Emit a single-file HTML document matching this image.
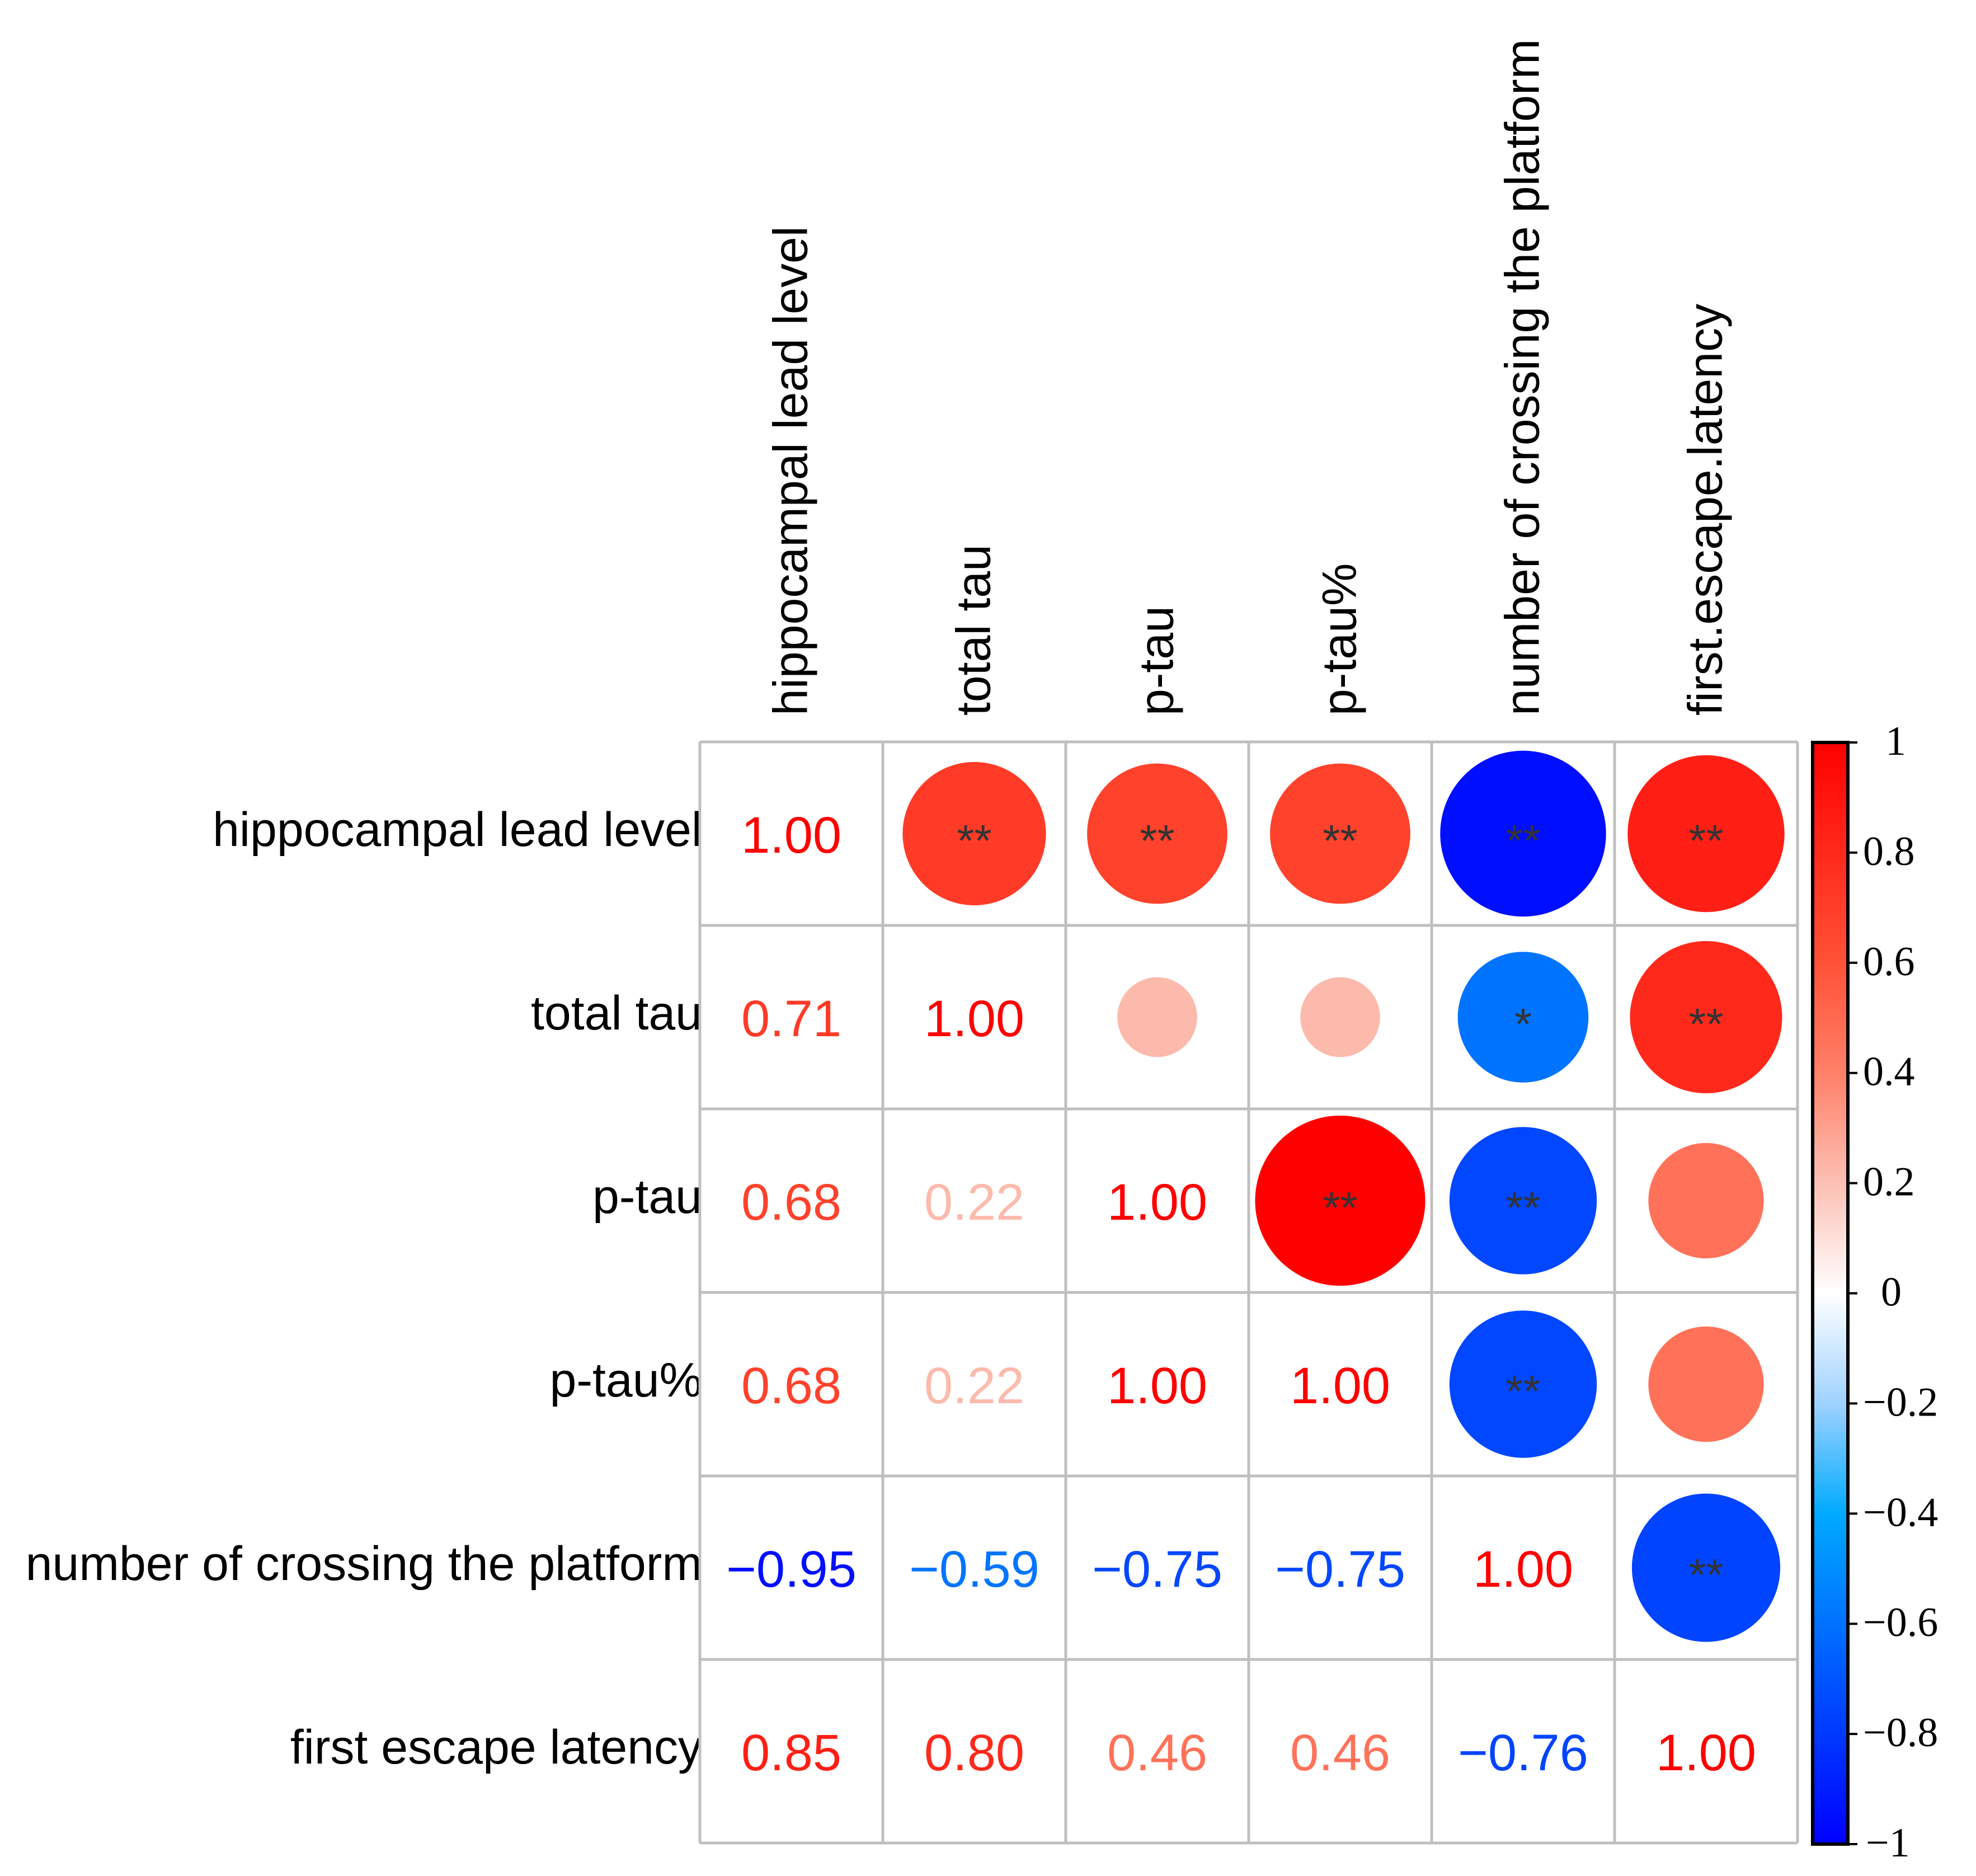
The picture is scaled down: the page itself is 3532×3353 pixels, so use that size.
<!DOCTYPE html>
<html><head><meta charset="utf-8"><style>
html,body{margin:0;padding:0;background:#fff}
svg{display:block}
</style></head><body>
<svg id="chart" width="3532" height="3353" viewBox="0 0 3532 3353" xmlns="http://www.w3.org/2000/svg" font-family="'Liberation Sans', sans-serif">
<defs>
<linearGradient id="cbar" x1="0" y1="1" x2="0" y2="0">
<stop offset="0" stop-color="#0000FF"/>
<stop offset="0.3" stop-color="#00AAFF"/>
<stop offset="0.4" stop-color="#9FD2FF"/>
<stop offset="0.5" stop-color="#FFFFFF"/>
<stop offset="0.6" stop-color="#FCC0B4"/>
<stop offset="0.7" stop-color="#FF8068"/>
<stop offset="0.8" stop-color="#FF5237"/>
<stop offset="1" stop-color="#FF0000"/>
</linearGradient>
</defs>
<g id="labels"></g>
<g id="grid"></g>
<g id="colorbar"></g>
</svg>
<script>
const variables = ["hippocampal lead level","total tau","p-tau","p-tau%","number of crossing the platform","first escape latency"];
const colLabels = ["hippocampal lead level","total tau","p-tau","p-tau%","number of crossing the platform","first.escape.latency"];
const row0 = [1.00, 0.71, 0.68, 0.68, -0.95, 0.85];
const row1 = [0.71, 1.00, 0.22, 0.22, -0.59, 0.80];
const row2 = [0.68, 0.22, 1.00, 1.00, -0.75, 0.46];
const row3 = [0.68, 0.22, 1.00, 1.00, -0.75, 0.46];
const row4 = [-0.95, -0.59, -0.75, -0.75, 1.00, -0.76];
const row5 = [0.85, 0.80, 0.46, 0.46, -0.76, 1.00];
const sig0 = ["", "**", "**", "**", "**", "**"];
const sig1 = ["", "", "", "", "*", "**"];
const sig2 = ["", "", "", "**", "**", ""];
const sig3 = ["", "", "", "", "**", ""];
const sig4 = ["", "", "", "", "", "**"];
const sig5 = ["", "", "", "", "", ""];
const cbTicks = [1, 0.8, 0.6, 0.4, 0.2, 0, -0.2, -0.4, -0.6, -0.8, -1];

const matrix = [row0,row1,row2,row3,row4,row5];
const sigs = [sig0,sig1,sig2,sig3,sig4,sig5];
const NS = "http://www.w3.org/2000/svg";
const GX = 1251, GY = 1326, CW = 327, CH = 328;
const xc = j => GX + (j + 0.5) * CW;
const yc = i => GY + (i + 0.5) * CH;
const CB_TOP = 1327, CB_BOT = 3296;
const cbY = v => CB_TOP + (1 - v) / 2 * (CB_BOT - CB_TOP);

const stops = [[-1,[0,0,255]],[-0.4,[0,170,255]],[-0.2,[159,210,255]],[0,[255,255,255]],[0.2,[252,192,180]],[0.4,[255,128,104]],[0.6,[255,82,55]],[1,[255,0,0]]];
function color(v){
  for(let k=0;k<stops.length-1;k++){
    const [a,ca]=stops[k],[b,cb]=stops[k+1];
    if(v>=a && v<=b){const t=(v-a)/(b-a);
      const c=ca.map((x,i)=>Math.round(x+(cb[i]-x)*t));
      return `rgb(${c[0]},${c[1]},${c[2]})`;}
  }
  return v<0?"rgb(0,0,255)":"rgb(255,0,0)";
}
function mk(tag, attrs, parent){
  const e=document.createElementNS(NS,tag);
  for(const k in attrs) e.setAttribute(k, attrs[k]);
  parent.appendChild(e); return e;
}
const labels=document.getElementById('labels');
const grid=document.getElementById('grid');
const cbar=document.getElementById('colorbar');

variables.forEach((v,i)=>{
  const t=mk('text',{x:GX+4,y:yc(i)+22,'font-size':86,'text-anchor':'end',fill:'#000'},labels);
  
  
  t.textContent=v;
});
colLabels.forEach((v,j)=>{
  const x=xc(j)+28, y=1279;
  const t=mk('text',{x:x,y:y,'font-size':86,'text-anchor':'start',fill:'#000',transform:`rotate(-90 ${x} ${y})`},labels);
  
  
  t.textContent=v;
});

const bg=mk('rect',{x:GX,y:GY,width:6*CW,height:6*CH,fill:'#fff'},grid);



matrix.forEach((row,i)=>{
  row.forEach((v,j)=>{
    if(j<=i){
      const t=mk('text',{x:xc(j),y:yc(i)+34,'font-size':92,'text-anchor':'middle',fill:color(v)},grid);
      
      
      t.textContent=(v<0?'\u2212':'')+Math.abs(v).toFixed(2);
    } else {
      const r=0.465*Math.sqrt(Math.abs(v))*CW;
      const c=mk('circle',{cx:xc(j),cy:yc(i),r:r,fill:color(v)},grid);
      
      
      const s=sigs[i][j];
      if(s){
        const t=mk('text',{x:xc(j),y:yc(i)+40,'font-size':80,'text-anchor':'middle',fill:'#333'},grid);
        
        
        t.textContent=s;
      }
    }
  });
});
for(let k=0;k<=6;k++){
  const l1=mk('line',{x1:GX+k*CW,y1:GY,x2:GX+k*CW,y2:GY+6*CH,stroke:'#bfbfbf','stroke-width':5},grid);
  
  
  const l2=mk('line',{x1:GX,y1:GY+k*CH,x2:GX+6*CW,y2:GY+k*CH,stroke:'#bfbfbf','stroke-width':5},grid);
  
  
}

const bar=mk('rect',{x:3240,y:CB_TOP,width:63,height:CB_BOT-CB_TOP,fill:'url(#cbar)',stroke:'#000','stroke-width':6},cbar);


cbTicks.forEach(v=>{
  const y=cbY(v);
  const tk=mk('line',{x1:3303,x2:3320,y1:y,y2:y,stroke:'#000','stroke-width':4},cbar);
  
  
  const x = v===0 ? 3362 : v===1 ? 3370 : 3330;
  const t=mk('text',{x:x,y:y+22,'font-size':74,'font-family':"'Liberation Serif', serif",fill:'#000'},cbar);
  
  
  t.textContent = v<0 ? '\u2212'+(Math.abs(v)===1?'1':Math.abs(v).toString()) : v.toString();
  if(v===-1){t.setAttribute('x',3335);}
});
</script>
</body></html>
